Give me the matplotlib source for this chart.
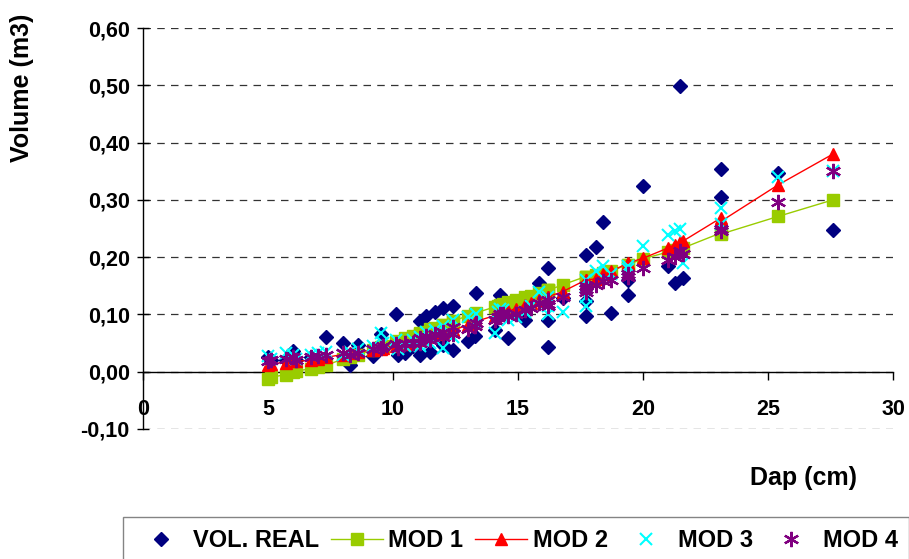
import matplotlib
matplotlib.use("Agg")
import matplotlib.pyplot as plt
from matplotlib.lines import Line2D

plt.rcParams["font.family"] = ["Liberation Sans", "DejaVu Sans"]
plt.rcParams["font.weight"] = "bold"

# ---- dados (Dap em cm, volumes em m3) ----
dap = [5.0, 5.1, 5.7, 6.0, 6.1, 6.7, 7.0, 7.3, 8.0, 8.27,
       8.6, 9.2, 9.5, 9.6, 10.13, 10.2, 10.5, 10.8, 11.07, 11.1,
       11.3, 11.5, 11.67, 12.0, 12.0, 12.4, 12.4, 13.0, 13.27, 13.33,
       14.07, 14.2, 14.27, 14.4, 14.6, 14.9, 15.27, 15.5, 15.85, 16.2,
       16.2, 16.2, 16.8, 17.7, 17.7, 17.7, 18.1, 18.4, 18.73, 19.4,
       19.4, 20.0, 21.0, 21.27, 21.5, 21.6, 23.1, 23.1, 25.4, 27.6]

vol_real = [0.025, 0.020, 0.020, 0.037, 0.020, 0.025, 0.020, 0.060, 0.050, 0.012,
            0.047, 0.027, 0.065, 0.045, 0.100, 0.030, 0.033, 0.045, 0.088, 0.030,
            0.097, 0.035, 0.105, 0.111, 0.047, 0.114, 0.038, 0.053, 0.062, 0.137,
            0.073, 0.110, 0.134, 0.125, 0.059, 0.100, 0.091, 0.120, 0.155, 0.181,
            0.091, 0.043, 0.129, 0.204, 0.123, 0.097, 0.218, 0.261, 0.102, 0.134,
            0.160, 0.325, 0.184, 0.155, 0.498, 0.163, 0.354, 0.305, 0.347, 0.247]

mod1 = [-0.012, -0.010, -0.005, 0.000, 0.001, 0.005, 0.008, 0.011, 0.022, 0.026,
        0.030, 0.038, 0.043, 0.045, 0.052, 0.053, 0.058, 0.062, 0.066, 0.067,
        0.070, 0.074, 0.076, 0.082, 0.082, 0.088, 0.088, 0.098, 0.101, 0.103,
        0.113, 0.115, 0.116, 0.118, 0.121, 0.125, 0.130, 0.133, 0.138, 0.142,
        0.142, 0.142, 0.152, 0.166, 0.166, 0.166, 0.169, 0.172, 0.176, 0.187,
        0.187, 0.197, 0.209, 0.212, 0.215, 0.216, 0.242, 0.240, 0.271, 0.300]

mod2 = [0.012, 0.014, 0.016, 0.018, 0.018, 0.020, 0.022, 0.025, 0.030, 0.032,
        0.034, 0.038, 0.040, 0.042, 0.045, 0.046, 0.049, 0.052, 0.056, 0.057,
        0.060, 0.063, 0.065, 0.068, 0.068, 0.072, 0.072, 0.082, 0.086, 0.088,
        0.098, 0.100, 0.101, 0.103, 0.106, 0.110, 0.116, 0.120, 0.126, 0.131,
        0.131, 0.131, 0.140, 0.160, 0.160, 0.160, 0.162, 0.170, 0.175, 0.190,
        0.190, 0.198, 0.216, 0.222, 0.227, 0.228, 0.268, 0.262, 0.326, 0.380]

mod3 = [0.028, 0.022, 0.032, 0.030, 0.022, 0.030, 0.032, 0.035, 0.030, 0.035,
        0.040, 0.045, 0.067, 0.050, 0.055, 0.040, 0.045, 0.055, 0.060, 0.045,
        0.070, 0.050, 0.072, 0.080, 0.042, 0.090, 0.060, 0.095, 0.085, 0.100,
        0.068, 0.105, 0.110, 0.108, 0.090, 0.095, 0.105, 0.115, 0.140, 0.130,
        0.100, 0.115, 0.105, 0.160, 0.130, 0.115, 0.175, 0.185, 0.170, 0.185,
        0.180, 0.219, 0.239, 0.245, 0.250, 0.190, 0.286, 0.257, 0.340, 0.350]

mod4 = [0.018, 0.020, 0.022, 0.025, 0.020, 0.025, 0.028, 0.030, 0.032, 0.030,
        0.033, 0.040, 0.042, 0.045, 0.048, 0.042, 0.050, 0.050, 0.058, 0.050,
        0.062, 0.055, 0.065, 0.070, 0.060, 0.078, 0.065, 0.075, 0.080, 0.085,
        0.090, 0.095, 0.100, 0.100, 0.098, 0.100, 0.108, 0.112, 0.120, 0.125,
        0.115, 0.118, 0.130, 0.140, 0.145, 0.150, 0.152, 0.158, 0.160, 0.165,
        0.170, 0.181, 0.195, 0.200, 0.210, 0.205, 0.250, 0.245, 0.297, 0.350]

y_ticks = [-0.1, 0.0, 0.1, 0.2, 0.3, 0.4, 0.5, 0.6]
y_tick_labels = ["-0,10", "0,00", "0,10", "0,20", "0,30", "0,40", "0,50", "0,60"]
x_ticks = [0, 5, 10, 15, 20, 25, 30]

fig = plt.figure(figsize=(9.09, 5.59), dpi=100)
ax = fig.add_axes([143 / 909, 1 - 429 / 559, 750 / 909, 401 / 559])

ax.plot(dap, vol_real, linestyle="none", marker="D", ms=7,
        color="#000080", label="VOL. REAL", zorder=3)
ax.plot(dap, mod1, color="#99CC00", lw=1.0, marker="s", ms=8,
        label="MOD 1", zorder=4)
ax.plot(dap, mod2, color="#FF0000", lw=1.0, marker="^", ms=9,
        label="MOD 2", zorder=5)
ax.plot(dap, mod3, linestyle="none", marker="x", ms=9, mew=1.5,
        color="#00FFFF", label="MOD 3", zorder=6)
ax.plot(dap, mod4, linestyle="none", marker=(6, 2, 0), ms=11, mew=1.6,
        color="#800080", label="MOD 4", zorder=7)

ax.set_xlim(0, 30)
ax.set_ylim(-0.1, 0.6)
ax.set_yticks(y_ticks)
ax.set_yticklabels(y_tick_labels)
ax.set_xticks(x_ticks)
ax.set_xticklabels([str(v) for v in x_ticks])

ax.spines["top"].set_visible(False)
ax.spines["right"].set_visible(False)
ax.spines["bottom"].set_position(("data", 0))
ax.spines["left"].set_linewidth(1.0)
ax.spines["bottom"].set_linewidth(1.0)

ax.tick_params(axis="y", direction="inout", length=9, width=1, labelsize=15.5, pad=5)
ax.tick_params(axis="x", direction="out", length=6, width=1, labelsize=15.5, pad=14)

ax.yaxis.grid(True, linestyle=(0, (6, 5)), color="#333333", lw=0.9)
ax.set_axisbelow(True)

fig.text(22 / 909, 1 - 88 / 559, "Volume (m3)", rotation=90, ha="center",
         va="center", fontsize=18, fontweight="bold")
fig.text(804 / 909, 1 - 478 / 559, "Dap (cm)", ha="center", va="center",
         fontsize=18, fontweight="bold")

handles = [
    Line2D([], [], linestyle="none", marker="D", ms=7, color="#000080"),
    Line2D([], [], color="#99CC00", lw=1.0, marker="s", ms=8),
    Line2D([], [], color="#FF0000", lw=1.0, marker="^", ms=9),
    Line2D([], [], linestyle="none", marker="x", ms=9, mew=1.5, color="#00FFFF"),
    Line2D([], [], linestyle="none", marker=(6, 2, 0), ms=11, mew=1.6, color="#800080"),
]
labels = ["VOL. REAL", "MOD 1", "MOD 2", "MOD 3", "MOD 4"]
leg = fig.legend(handles, labels, loc="upper left",
                 bbox_to_anchor=(123 / 909, 1 - 517 / 559), ncol=5,
                 fontsize=17, frameon=True, fancybox=False, edgecolor="#666666",
                 handlelength=2.2, handletextpad=0.25, columnspacing=0.5,
                 borderpad=0.5, borderaxespad=0)
leg.get_frame().set_linewidth(1.0)

fig.savefig("out.png", dpi=100)
